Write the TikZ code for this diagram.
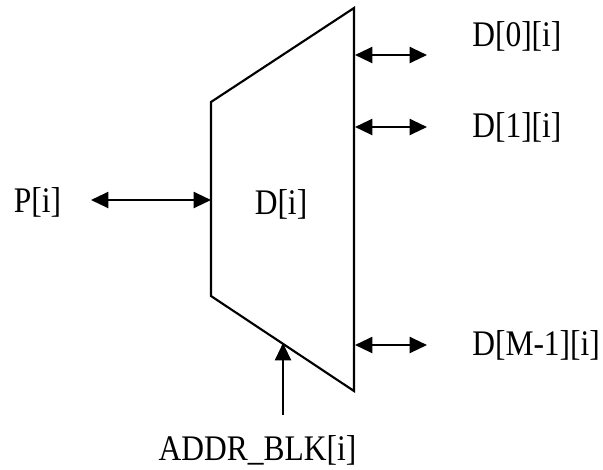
\documentclass[tikz,border=0pt]{standalone}
\usepackage{fontspec}
\setmainfont{Liberation Serif}
\usetikzlibrary{arrows.meta}
\newcommand{\estreito}[1]{\scalebox{0.875}[1]{#1}}
\tikzstyle{rotulo}=[inner sep=0pt,font=\fontsize{27}{32}\selectfont]
\tikzstyle{sinal}=[line width=1.6pt,{Triangle[length=13pt,width=12pt]}-{Triangle[length=13pt,width=12pt]}]
\tikzstyle{entrada}=[line width=1.6pt,-{Triangle[length=13pt,width=12pt]}]

\begin{document}
\begin{tikzpicture}[x=0.75pt,y=-0.75pt]
    \useasboundingbox (0,0) rectangle (603,469);
    \coordinate (tl) at (211,102);
    \coordinate (tr) at (354,8);
    \coordinate (br) at (354,391);
    \coordinate (bl) at (211,296);
    \draw [line width=1.6pt,line join=miter] (tl) -- (tr) -- (br) -- (bl) -- cycle;
    \node [rotulo,anchor=base] (d)  at (281,214) {\estreito{D[i]}};
    \node [rotulo,anchor=base] (p)  at (37.5,212) {\estreito{P[i]}};
    \node [rotulo,anchor=base west] (d0) at (472,46) {\estreito{D[0][i]}};
    \node [rotulo,anchor=base west] (d1) at (472,137) {\estreito{D[1][i]}};
    \node [rotulo,anchor=base west] (dm) at (472,355) {\estreito{D[M-1][i]}};
    \node [rotulo,anchor=base] (addr) at (257.5,460) {\estreito{ADDR\_BLK[i]}};
    \coordinate (pin)  at (211,200);
    \coordinate (pout) at (91,200);
    \coordinate (r0) at (355,55);
    \coordinate (r1) at (355,127);
    \coordinate (rm) at (355,345);
    \coordinate (e0) at (427,55);
    \coordinate (e1) at (427,127);
    \coordinate (em) at (427,345);
    \coordinate (ain) at (283,343);
    \coordinate (aout) at (283,415);
    \draw [sinal] (pout) -- (pin);
    \draw [sinal] (r0) -- (e0);
    \draw [sinal] (r1) -- (e1);
    \draw [sinal] (rm) -- (em);
    \draw [entrada] (aout) -- (ain);
\end{tikzpicture}
\end{document}
